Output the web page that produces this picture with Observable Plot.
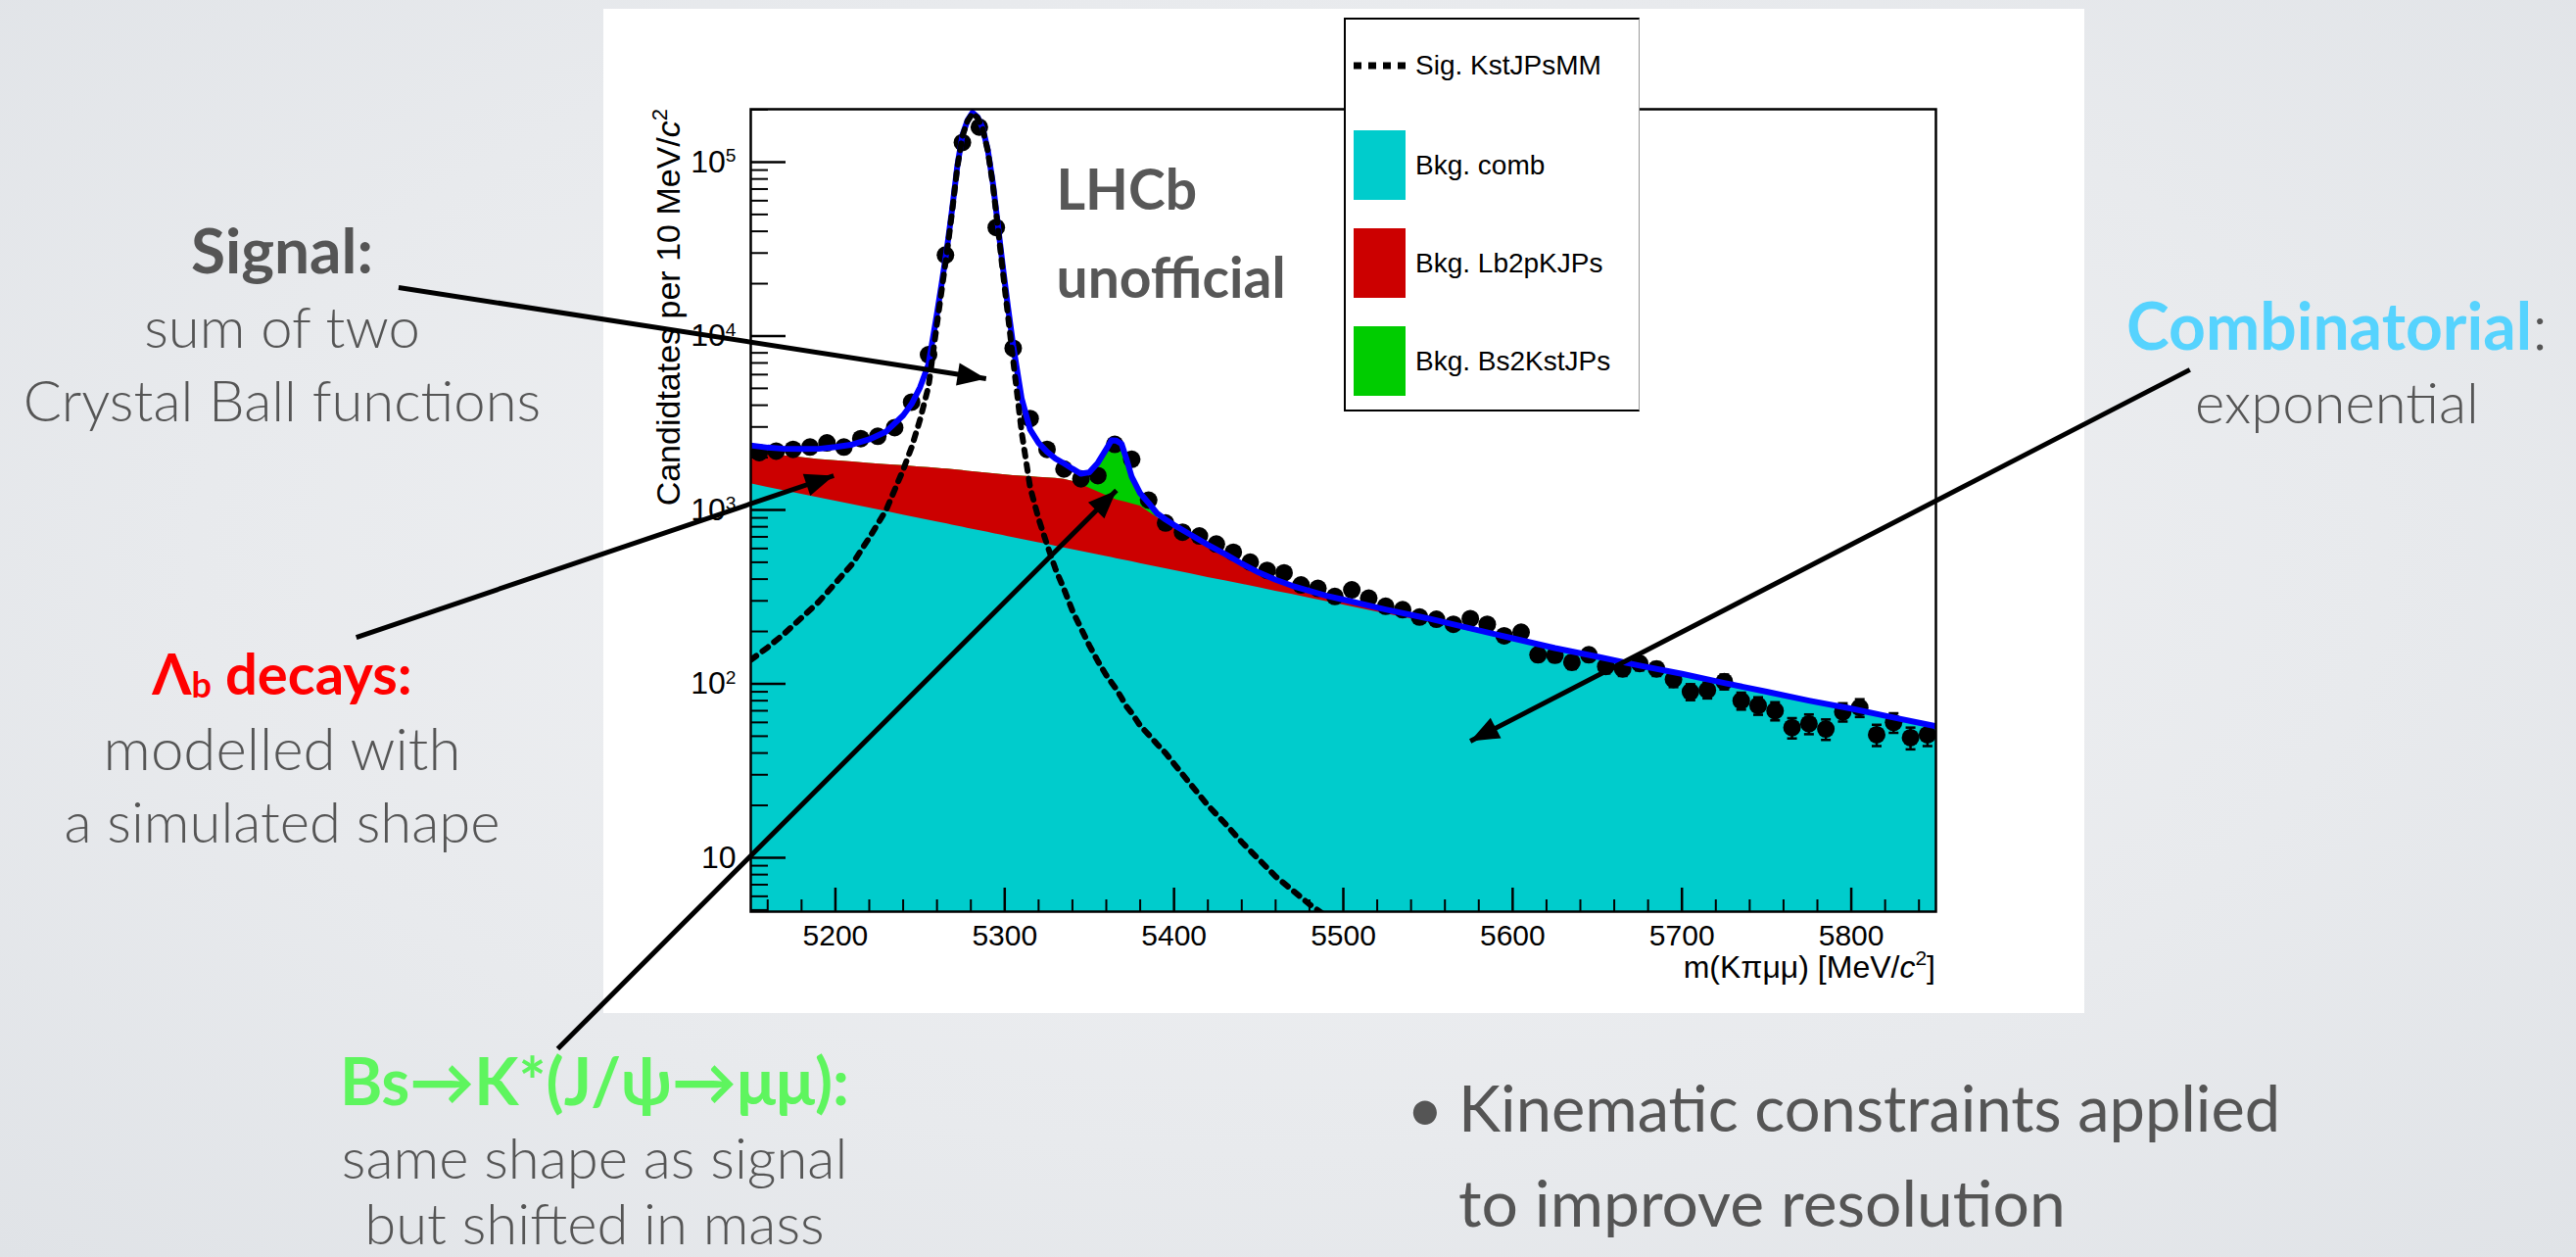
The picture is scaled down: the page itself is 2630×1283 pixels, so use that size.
<!DOCTYPE html>
<html>
<head>
<meta charset="utf-8">
<script src="https://cdn.jsdelivr.net/npm/d3@7"></script>
<script src="https://cdn.jsdelivr.net/npm/@observablehq/plot@0.6"></script>
<style>
  html, body { margin: 0; padding: 0; }
  body {
    width: 2630px; height: 1283px; overflow: hidden; position: relative;
    background: radial-gradient(ellipse at 50% 45%, #f1f2f4 0%, #e8eaed 60%, #e0e3e7 100%);
  }
  #panel { position: absolute; left: 616px; top: 9px; width: 1512px; height: 1025px; background: #fff; }
  #notes, #chart { position: absolute; left: 0; top: 0; }
  #legend {
    position: absolute; left: 1372px; top: 18px; width: 299px; height: 398px;
    background: #fff; border: 2px solid #000; border-right: 1px solid #9a9a9a;
    font-family: "Liberation Sans", Arial, sans-serif; font-size: 28px; color: #000;
  }
  #legend .row { position: absolute; left: 8px; height: 71px; display: flex; align-items: center; white-space: nowrap; }
  #legend .sw { width: 53px; height: 71px; margin-right: 10px; }
  #legend .ln { width: 53px; margin-right: 10px; display: block; }
</style>
</head>
<body>
<div id="panel"></div>
<script>
// ---------------- data ----------------
// fit-curve sampling grid, MeV/c^2
const massGrid = [5150,5160,5170,5180,5190,5200,5210,5220,5230,5240,5245,5250,5255,5260,
  5263,5266,5269,5272,5275,5278,5281,5284,5287,5290,5293,5296,5299,5302,5305,
  5310,5315,5320,5325,5330,5335,5340,5345,5350,5355,5360,5363,5366,5369,5372,5375,
  5380,5385,5390,5395,5400,5410,5420,5430,5440,5450,5460,5470,5480,5490,5500,
  5525,5550,5575,5600,5625,5650,5675,5700,5725,5750,5775,5800,5825,5850];
// combinatorial background (exponential)
const combVals = [1413,1349,1288,1230,1175,1122,1073,1025,979,935,914,893,873,853,
  841,830,818,807,796,785,774,764,753,743,733,723,713,703,693,
  678,662,648,634,619,605,592,578,565,552,540,532,525,518,511,504,
  492,481,470,459,449,429,409,392,374,357,341,326,311,297,284,
  253,226,201,179,160,143,127,114,101,90,80,72,64,57];
// Lambda_b -> p K J/psi background
const lbVals = [800,771,762,770,775,797,815,829,845,860,864,869,877,881,
  885,888,888,887,887,886,886,884,884,883,881,880,879,882,881,
  885,890,890,894,898,895,870,822,769,719,671,643,615,604,593,580,
  562,494,435,382,336,263,201,151,105,70,48,33,26,19,17,
  12,10,6,3,0,0,0,0,0,0,0,0,0,0];
// Bs -> K* J/psi background
const bsVals = [0,0,0,0,0,0,0,0,0,0,0,0,0,0,
  0,0,0,0,0,0,0,0,0,0,0,0,0,0,0,
  0,0,0,0,0,0,0,5,145,459,916,1235,1267,1194,772,397,
  133,70,5,0,0,0,0,0,0,0,0,0,0,0,0,
  0,0,0,0,0,0,0,0,0,0,0,0,0,0];
// signal (sum of two Crystal Ball functions)
const sigVals = [137,162,195,240,295,380,490,692,1000,1700,2290,3310,5130,11750,
  19050,30900,52500,93300,141000,172000,191000,180000,155000,116000,74100,41600,22900,12900,7240,
  2800,1350,890,631,457,351,263,209,166,135,112,102,93,83,74,68,
  57.5,51,45,40,34.7,26.3,20,15.8,12.3,9.8,7.8,6.5,5.4,4.6,3.9,
  2.6,1.8,1.2,0.8,0.55,0.38,0.26,0.18,0.12,0.08,0.06,0.04,0.03,0.02];

// data histogram: 10 MeV bins from 5150 to 5850
const binCenters = d3.range(5155, 5850, 10);
const counts = [2135,2180,2228,2297,2428,2297,2570,2650,2974,4166,
  7800,29200,129700,158900,42100,8510,3356,2228,1718,1510,
  1575,2380,1955,1138,841,745,708,636,571,501,
  449,435,370,354,318,347,311,279,267,242,
  235,220,237,220,189,198,147,146,133,147,
  126,122,131,122,106,90,92,103,80,75,
  70,56,59,55,69,73,51,60,49,51];

const xTicks = [5200,5300,5400,5500,5600,5700,5800];
const xMinor = d3.range(5160, 5850, 20).filter(v => v % 100 !== 0);
const yTicks = [10,100,1000,10000,100000];
const yTickExp = [1,2,3,4,5];
const yMinor = [5,6,7,8,9,20,30,40,50,60,70,80,90,200,300,400,500,600,700,800,900,
  2000,3000,4000,5000,6000,7000,8000,9000,20000,30000,40000,50000,60000,70000,80000,90000,200000];

const legendItems = [
  {label: "Sig. KstJPsMM", kind: "line"},
  {label: "Bkg. comb", kind: "box", key: "comb"},
  {label: "Bkg. Lb2pKJPs", kind: "box", key: "lb"},
  {label: "Bkg. Bs2KstJPs", kind: "box", key: "bs"}
];

const brandLabels = [
  {text: "LHCb", m: 5330.5, n: 52970},
  {text: "unofficial", m: 5330.5, n: 16480}
];

// slide annotation arrows, in data coordinates (mass, candidates)
const arrows = [
  {m1: 4942, n1: 19000, m2: 5289, n2: 5690},
  {m1: 4917, n1: 185, m2: 5199, n2: 1574},
  {m1: 5036, n1: 0.797, m2: 5366, n2: 1297},
  {m1: 6000, n1: 6400, m2: 5575, n2: 46.8}
];

const GRAY = "#555555";
const slideNotes = [
  {x: 288, y: 279, size: 64, parts: [{t: "Signal:", w: 700}]},
  {x: 288, y: 355, parts: [{t: "sum of two"}]},
  {x: 288, y: 430, parts: [{t: "Crystal Ball functions"}]},
  {x: 288, y: 709, parts: [{t: "Λ", w: 700, c: "#ff0000"}, {t: "b", w: 700, c: "#ff0000", sub: true}, {t: " decays:", w: 700, c: "#ff0000"}]},
  {x: 288, y: 786, size: 60, parts: [{t: "modelled with"}]},
  {x: 288, y: 860, parts: [{t: "a simulated shape"}]},
  {x: 2386, y: 357, size: 66, parts: [{t: "Combinatorial", w: 700, c: "#56d3fe"}, {t: ":"}]},
  {x: 2386, y: 432, parts: [{t: "exponential"}]},
  {x: 607, y: 1128, size: 66, parts: [{t: "Bs→K*(J/ψ→μμ):", w: 700, c: "#5ef55e"}]},
  {x: 607, y: 1203, parts: [{t: "same shape as signal"}]},
  {x: 607, y: 1270, parts: [{t: "but shifted in mass"}]},
  {x: 1436, y: 1155, anchor: "start", size: 65, parts: [{t: "•", w: 400}]},
  {x: 1489, y: 1155, anchor: "start", size: 65, parts: [{t: "Kinematic constraints applied", w: 400}]},
  {x: 1489, y: 1252, anchor: "start", size: 66, parts: [{t: "to improve resolution", w: 400}]}
];

// ---------------- styles ----------------
const COLORS = {comb: "#00cccc", lb: "#cc0000", bs: "#00cc00", total: "#0000ff"};
const W = 2630, H = 1283;
const frame = {left: 766, right: 1976, top: 111, bottom: 930};
const yMin = 10 ** 0.69, yMax = 10 ** 5.304;
const NS = "http://www.w3.org/2000/svg";

const curves = massGrid.map((m, i) => {
  const c = combVals[i], l = lbVals[i], b = bsVals[i], s = sigVals[i];
  return {m, comb: c, lbTop: c + l, bkg: c + l + b, sig: s, total: c + l + b + s};
});
const points = binCenters.map((m, i) => ({m, n: counts[i], e: Math.sqrt(counts[i])}));

const hline = {draw(ctx, size) { const r = Math.sqrt(size / Math.PI); ctx.moveTo(-r, 0); ctx.lineTo(r, 0); }};

function headMarker(color) {
  const mk = document.createElementNS(NS, "marker");
  mk.setAttribute("viewBox", "-10 -5 10 10");
  mk.setAttribute("markerWidth", 6.5);
  mk.setAttribute("markerHeight", 6.5);
  mk.setAttribute("orient", "auto");
  mk.setAttribute("refX", 0);
  mk.setAttribute("refY", 0);
  const p = document.createElementNS(NS, "path");
  p.setAttribute("d", "M-9,-3.6L0,0L-9,3.6Z");
  p.setAttribute("fill", color);
  p.setAttribute("stroke", "none");
  mk.appendChild(p);
  return mk;
}

function build(marker) {
  return Plot.plot({
    width: W, height: H,
    marginLeft: frame.left, marginRight: W - frame.right,
    marginTop: frame.top, marginBottom: H - frame.bottom,
    style: {background: "transparent", fontFamily: "'Liberation Sans', Arial, sans-serif", overflow: "visible", color: "black"},
    x: {domain: [5150, 5850], axis: null},
    y: {type: "log", domain: [yMin, yMax], axis: null},
    marks: [
      Plot.areaY(curves, {x: "m", y1: yMin, y2: "bkg", fill: COLORS.bs, clip: true}),
      Plot.areaY(curves, {x: "m", y1: yMin, y2: "lbTop", fill: COLORS.lb, clip: true}),
      Plot.areaY(curves, {x: "m", y1: yMin, y2: "comb", fill: COLORS.comb, clip: true}),
      Plot.ruleX(points, {x: "m", y1: d => d.n - d.e, y2: d => d.n + d.e, stroke: "black", strokeWidth: 2.5, clip: true}),
      Plot.dot(points, {x: "m", y: d => d.n - d.e, symbol: hline, r: 5, stroke: "black", fill: "none", strokeWidth: 2.5, clip: true}),
      Plot.dot(points, {x: "m", y: d => d.n + d.e, symbol: hline, r: 5, stroke: "black", fill: "none", strokeWidth: 2.5, clip: true}),
      Plot.dot(points, {x: "m", y: "n", r: 9, fill: "black", stroke: "none", clip: true}),
      Plot.line(curves, {x: "m", y: "total", stroke: COLORS.total, strokeWidth: 6, clip: true}),
      Plot.line(curves, {x: "m", y: "sig", stroke: "black", strokeWidth: 6, strokeDasharray: "7,8", clip: true}),
      Plot.frame({stroke: "black", strokeWidth: 2.5}),
      Plot.axisX(xMinor, {tickSize: -12, strokeWidth: 2, fill: "none", label: null}),
      Plot.axisX(xTicks, {tickSize: -24, strokeWidth: 2.5, fill: "none", label: null}),
      Plot.axisX(xTicks, {tickSize: 0, tickPadding: 13, fontSize: 30, label: null, tickFormat: d => String(d)}),
      Plot.axisY(yMinor, {tickSize: -18, strokeWidth: 2, fill: "none", label: null}),
      Plot.axisY(yTicks, {tickSize: -36, strokeWidth: 2.5, fill: "none", label: null}),
      Plot.axisY(yTicks, {tickSize: 0, tickPadding: 15, fontSize: 32, label: null,
        tickFormat: d => { const e = yTickExp[yTicks.indexOf(d)]; return e === 1 ? "10" : "10^" + e; }}),
      Plot.text(brandLabels, {x: "m", y: "n", text: "text", textAnchor: "start", lineAnchor: "bottom",
        fontSize: 57, fontWeight: 700, fontFamily: "Lato, 'Open Sans', sans-serif", fill: "#575757"}),
      Plot.link(arrows, {x1: "m1", y1: "n1", x2: "m2", y2: "n2", stroke: "black", strokeWidth: 5, markerEnd: marker})
    ]
  });
}

let chart;
try { chart = build(headMarker); } catch (err) { chart = build("arrow"); }
chart.setAttribute("id", "chart");

// slide notes (behind the chart svg)
const notes = d3.create("svg").attr("id", "notes").attr("width", W).attr("height", H)
  .style("font-family", "Lato, 'Open Sans', sans-serif");
for (const n of slideNotes) {
  const t = notes.append("text").attr("x", n.x).attr("y", n.y)
    .attr("text-anchor", n.anchor || "middle").attr("font-size", n.size || 58).attr("fill", GRAY);
  n.parts.forEach((p, j) => {
    const s = t.append("tspan").text(p.t).attr("font-weight", p.w || 300).attr("fill", p.c || GRAY);
    if (p.sub) s.attr("font-size", 36).attr("dy", 3);
    else if (j > 0 && n.parts[j - 1].sub) s.attr("dy", -3);
  });
}
document.body.appendChild(notes.node());
document.body.appendChild(chart);

// y tick labels with superscript exponents
const svg = d3.select(chart);
svg.selectAll('g[aria-label="y-axis tick label"] text').each(function () {
  const s = this.textContent;
  const [b, e] = s.split("^");
  if (!e) return;
  this.textContent = b;
  const sup = document.createElementNS(NS, "tspan");
  sup.setAttribute("dy", "-0.55em");
  sup.setAttribute("font-size", "0.6em");
  sup.textContent = e;
  this.appendChild(sup);
});

// axis titles
const yt = svg.append("text")
  .attr("transform", `translate(${frame.left - 72},${frame.top}) rotate(-90)`)
  .attr("text-anchor", "end").attr("font-size", 34).attr("fill", "black");
yt.append("tspan").text("Candidtates per 10 MeV/");
yt.append("tspan").attr("font-style", "italic").text("c");
yt.append("tspan").attr("dy", -13).attr("font-size", 22).text("2");

const xt = svg.append("text")
  .attr("x", frame.right).attr("y", frame.bottom + 68)
  .attr("text-anchor", "end").attr("font-size", 32).attr("fill", "black");
xt.append("tspan").text("m(Kπμμ) [MeV/");
xt.append("tspan").attr("font-style", "italic").text("c");
xt.append("tspan").attr("dy", -13).attr("font-size", 21).text("2");
xt.append("tspan").attr("dy", 13).text("]");

// legend
const legend = document.createElement("div");
legend.id = "legend";
const rowTops = [11, 113, 213, 313];
legendItems.forEach((it, i) => {
  const row = document.createElement("div");
  row.className = "row";
  row.style.top = rowTops[i] + "px";
  if (it.kind === "line") {
    row.innerHTML = `<svg class="ln" width="53" height="10"><line x1="0" y1="5" x2="53" y2="5" stroke="black" stroke-width="7" stroke-dasharray="8,7"/></svg>`;
  } else {
    const sw = document.createElement("div");
    sw.className = "sw";
    sw.style.background = COLORS[it.key];
    row.appendChild(sw);
  }
  const lab = document.createElement("span");
  lab.textContent = it.label;
  row.appendChild(lab);
  legend.appendChild(row);
});
document.body.appendChild(legend);
</script>
</body>
</html>
